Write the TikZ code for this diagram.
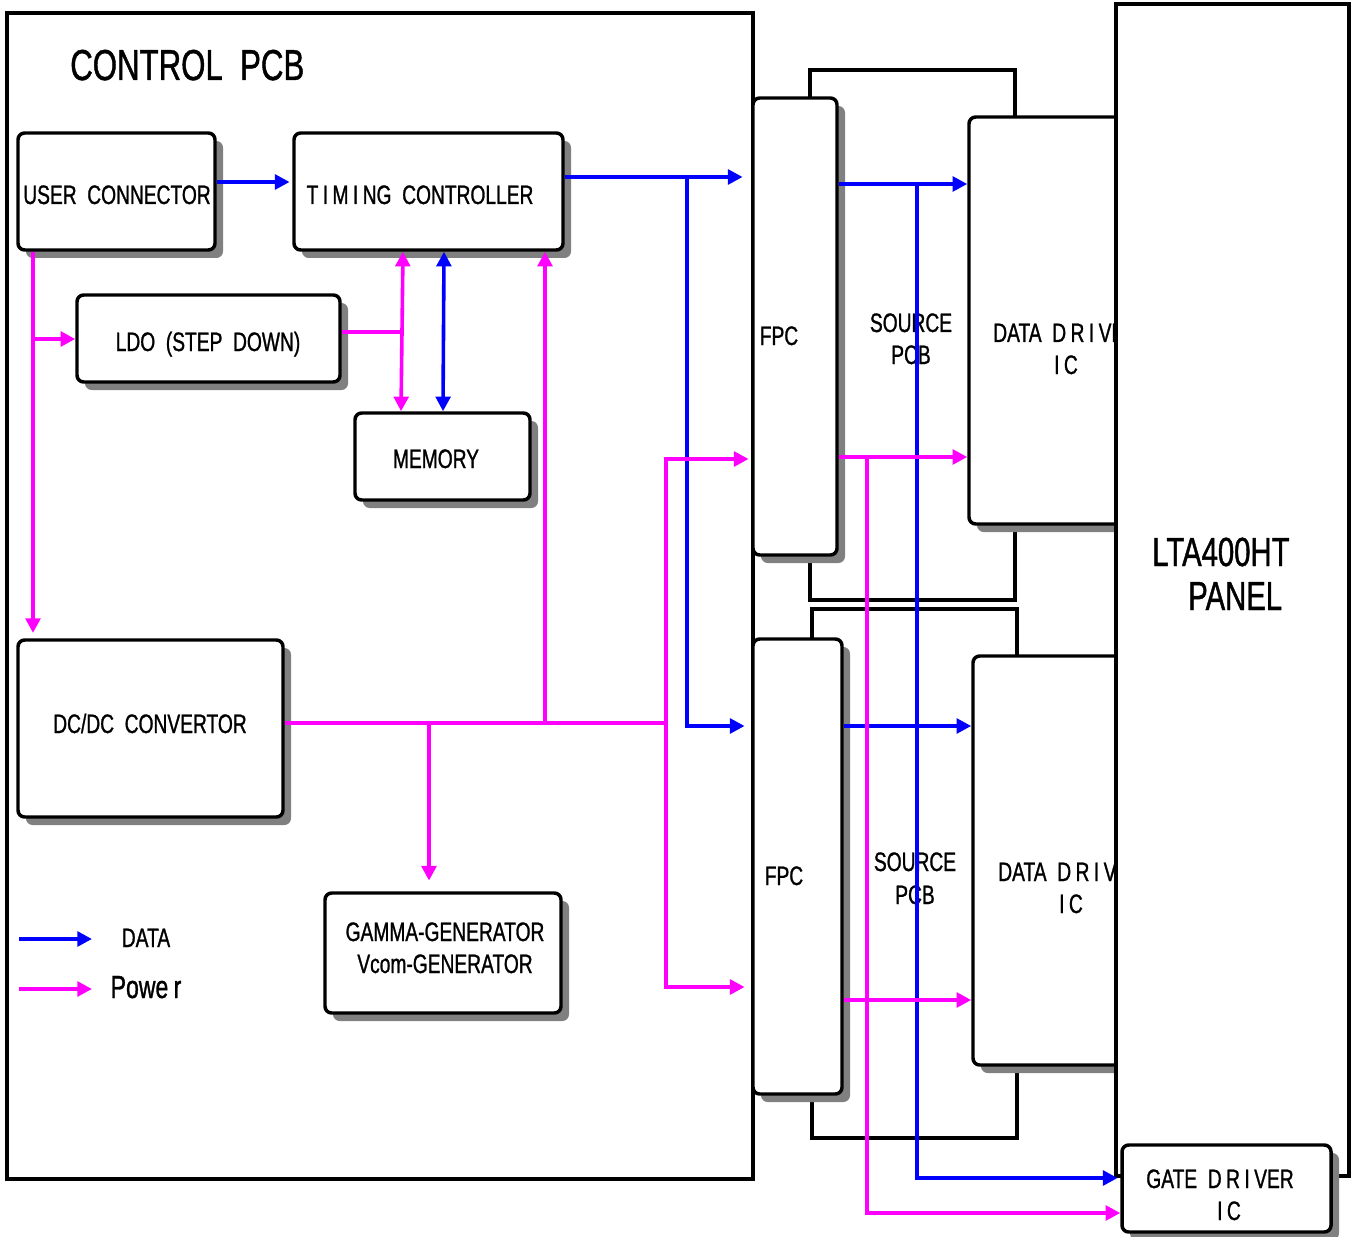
\documentclass[tikz,border=0pt]{standalone}
\usepackage{fontspec}
\setmainfont{Liberation Sans}[FakeStretch=0.72,FakeBold=1]
\usetikzlibrary{arrows.meta,shadows,fit}
\definecolor{dblue}{RGB}{0,0,255}
\definecolor{pmag}{RGB}{255,0,255}
\begin{document}
\begin{tikzpicture}[x=0.75pt,y=-0.75pt,
  box/.style={draw=black, line width=2.6pt, fill=white, rounded corners=5pt, inner sep=0pt,
     drop shadow={shadow xshift=6pt, shadow yshift=-6pt, fill=black!50, opacity=1}},
  frame/.style={draw=black, line width=2.4pt, inner sep=0pt},
  lbl/.style={inner sep=0pt, anchor=base, font=\fontsize{20}{24}\selectfont},
  data/.style={draw=dblue, line width=2.7pt},
  pw/.style={draw=pmag, line width=2.7pt},
  tip/.style={-{Triangle[length=11pt,width=11pt]}},
  tips/.style={{Triangle[length=11pt,width=11pt]}-{Triangle[length=11pt,width=11pt]}}]
\useasboundingbox (0,0) rectangle (1359,1237);
\fill[white] (0,0) rectangle (1359,1237);

% outer frames
\node[frame, fill=white, fit={(7,13)(753,1179)}] (cpcb) {};
\node[frame, fit={(810,70)(1015,600)}] (spcb1) {};
\node[frame, fit={(812,609)(1017,1138)}] (spcb2) {};
\node[box, fit={(753,98)(837,555)}] (fpc1) {};
\node[box, fit={(753,639)(842,1094)}] (fpc2) {};
\node[box, fit={(969,117)(1135,524)}] (dd1) {};
\node[box, fit={(973,656)(1135,1065)}] (dd2) {};
\node[lbl, anchor=base west] (tdd1) at (993,342) {DATA\ \ D\,R\,I\,VER};
\node[lbl] (tdd1b) at (1066,374) {I\,C};
\node[lbl, anchor=base west] (tdd2) at (998,881) {DATA\ \ D\,R\,I\,VER};
\node[lbl] (tdd2b) at (1071,913) {I\,C};
\node[frame, fill=white, fit={(1116,4)(1349,1176)}] (panel) {};
\node[box, fit={(1122,1145)(1331,1232)}] (gd) {};

% inner boxes
\node[box, fit={(18,133)(215,250)}] (uc) {};
\node[box, fit={(294,133)(563,250)}] (tc) {};
\node[box, fit={(77,295)(340,382)}] (ldo) {};
\node[box, fit={(355,413)(530,500)}] (mem) {};
\node[box, fit={(18,640)(283,817)}] (dcdc) {};
\node[box, fit={(325,893)(561,1013)}] (gam) {};

% texts
\node[lbl, anchor=base west, font=\fontsize{32.5}{36}\selectfont] (title) at (70,80) {CONTROL\ \ PCB};
\node[lbl] (tuc) at (117,204) {USER\ \ CONNECTOR};
\node[lbl] (ttc) at (420,204) {T\,I\,M\,I\,NG\ \ CONTROLLER};
\node[lbl] (tldo) at (208,351) {LDO\ \ (STEP\ \ DOWN)};
\node[lbl] (tmem) at (436,468) {MEMORY};
\node[lbl] (tdc) at (150,733) {DC/DC\ \ CONVERTOR};
\node[lbl] (tg1) at (445,941) {GAMMA-GENERATOR};
\node[lbl] (tg2) at (445,973) {Vcom-GENERATOR};
\node[lbl] (tf1) at (779,345) {FPC};
\node[lbl] (tf2) at (784,885) {FPC};
\node[lbl] (ts1) at (911,332) {SOURCE};
\node[lbl] (ts1b) at (911,364) {PCB};
\node[lbl] (ts2) at (915,871) {SOURCE};
\node[lbl] (ts2b) at (915,904) {PCB};
\node[lbl, anchor=base west, font=\fontsize{30.5}{34}\selectfont] (tp1) at (1152,566) {LTA400HT};
\node[lbl, anchor=base west, font=\fontsize{30.5}{34}\selectfont] (tp2) at (1188,610) {PANEL};
\node[lbl] (tgd) at (1220,1188) {GATE\ \ D\,R\,I\,VER};
\node[lbl] (tgdb) at (1229,1220) {I\,C};
\node[lbl] (tlegd) at (146,947) {DATA};
\node[lbl, font=\fontsize{24}{28}\selectfont] (tlegp) at (146,998) {Powe\,r};

% junction coordinates
\coordinate (jb1) at (687,177);
\coordinate (jb2) at (917,184);
\coordinate (jp1) at (33,339);
\coordinate (jp2) at (401,332);
\coordinate (jp3) at (668,723);
\coordinate (jp4) at (429,723);
\coordinate (jp5) at (545,723);
\coordinate (jp6) at (666,459);
\coordinate (jp7) at (666,987);
\coordinate (jp8) at (867,457);
\coordinate (lb1) at (19,939);
\coordinate (lb2) at (92,939);
\coordinate (lp1) at (19,989);
\coordinate (lp2) at (92,989);

% data connectors
\draw[data,tip,shorten >=2pt] (uc.east |- 0,182) -- (tc.west |- 0,182);
\draw[data,tip,shorten >=6.5pt] (tc.east |- 0,177) -- (fpc1.west |- 0,177);
\draw[data,tip,shorten >=5pt] (jb1) |- (fpc2.west |- 0,726);
\draw[data,tips] (tc.south -| 444,0) -- (mem.north -| 443,0);
\draw[data,tip] (fpc1.east |- 0,184) -- (dd1.west |- 0,184);
\draw[data,tip,shorten >=2pt] (jb2) |- (gd.west |- 0,1178);
\draw[data,tip] (fpc2.east |- 0,726) -- (dd2.west |- 0,726);
\draw[data,tip] (lb1) -- (lb2);

% power connectors
\draw[pw,tip,shorten >=4pt] (uc.south -| 33,0) -- (dcdc.north -| 33,0);
\draw[pw,tip] (jp1) -- (ldo.west |- 0,339);
\draw[pw] (ldo.east |- 0,332) -- (jp2);
\draw[pw,tips] (tc.south -| 403,0) -- (mem.north -| 401,0);
\draw[pw] (dcdc.east |- 0,723) -- (jp3);
\draw[pw,tip,shorten >=8pt] (jp4) -- (gam.north -| 429,0);
\draw[pw,tip] (jp5) -- (tc.south -| 545,0);
\draw[pw,tips,shorten <=2pt,shorten >=5pt] (fpc1.west |- 0,459) -- (jp6) -- (jp7) -- (fpc2.west |- 0,987);
\draw[pw,tip] (fpc1.east |- 0,457) -- (dd1.west |- 0,457);
\draw[pw,tip] (jp8) |- (gd.west |- 0,1213);
\draw[pw,tip] (fpc2.east |- 0,1000) -- (dd2.west |- 0,1000);
\draw[pw,tip] (lp1) -- (lp2);
\end{tikzpicture}
\end{document}
